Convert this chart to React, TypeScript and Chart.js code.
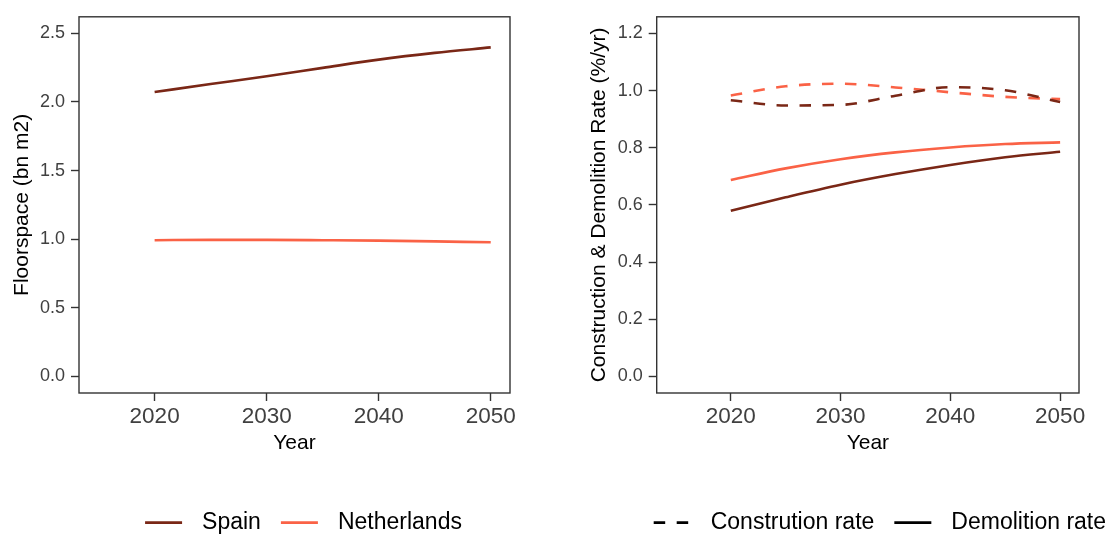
import React, { useEffect, useRef } from "react";
import { Chart, registerables } from "chart.js";

Chart.register(...registerables);

const FONT = '"Liberation Sans", Arial, Helvetica, sans-serif';

const YEARS = [2020, 2025, 2030, 2035, 2040, 2045, 2050];
const X_TICKS = [2020, 2030, 2040, 2050];

const FLOOR_SPAIN = [2.072, 2.13, 2.187, 2.248, 2.308, 2.357, 2.397];
const FLOOR_NL = [0.993, 0.995, 0.995, 0.993, 0.99, 0.984, 0.978];
const FLOOR_TICKS = [0, 0.5, 1.0, 1.5, 2.0, 2.5];

const CONS_SPAIN = [0.966, 0.948, 0.95, 0.982, 1.012, 1.001, 0.96];
const CONS_NL = [0.983, 1.015, 1.024, 1.011, 0.994, 0.978, 0.97];
const DEMO_SPAIN = [0.58, 0.627, 0.671, 0.708, 0.74, 0.767, 0.786];
const DEMO_NL = [0.687, 0.728, 0.76, 0.784, 0.801, 0.813, 0.819];
const RATE_TICKS = [0, 0.2, 0.4, 0.6, 0.8, 1.0, 1.2];

const COUNTRIES = ["Spain", "Netherlands"];
const RATE_TYPES = ["Constrution rate", "Demolition rate"];

const SPAIN_COLOR = "#7A2716";
const NL_COLOR = "#FA6246";
const TICK_TEXT = "#404040";
const DASH = [11.5, 11.5];

const pts = (vals: number[]) => YEARS.map((x, i) => ({ x, y: vals[i] }));

const framePlugin = {
  id: "frame",
  afterDatasetsDraw(chart: any) {
    const { ctx, chartArea: a } = chart;
    ctx.save();
    ctx.strokeStyle = "#333333";
    ctx.lineWidth = 1.4;
    ctx.strokeRect(a.left, a.top, a.right - a.left, a.bottom - a.top);
    ctx.restore();
  },
};

type LegendItem = { label: string; color: string; dash: number[] };

const makeLegendPlugin = (items: LegendItem[], shift: number) => ({
  id: "lineLegend",
  afterDraw(chart: any) {
    const { ctx, chartArea: a } = chart;
    const lineLen = 37;
    const gap = 20;
    const itemGap = 20;
    const y = 522.7;
    ctx.save();
    ctx.font = `23px ${FONT}`;
    const widths = items.map((it) => ctx.measureText(it.label).width);
    const total =
      widths.reduce((s, w) => s + lineLen + gap + w, 0) + itemGap * (items.length - 1);
    let x = (a.left + a.right) / 2 + shift - total / 2;
    items.forEach((it, i) => {
      ctx.beginPath();
      ctx.setLineDash(it.dash);
      ctx.strokeStyle = it.color;
      ctx.lineWidth = 2.7;
      ctx.lineCap = "butt";
      ctx.moveTo(x, y);
      ctx.lineTo(x + lineLen, y);
      ctx.stroke();
      ctx.setLineDash([]);
      ctx.fillStyle = "#000000";
      ctx.textBaseline = "middle";
      ctx.textAlign = "left";
      ctx.fillText(it.label, x + lineLen + gap, y);
      x += lineLen + gap + widths[i] + itemGap;
    });
    ctx.restore();
  },
});

const xScale = () => ({
  type: "linear",
  min: 2013.25,
  max: 2051.72,
  afterBuildTicks: (s: any) => {
    s.ticks = X_TICKS.map((value) => ({ value }));
  },
  afterFit: (s: any) => {
    s.height = 63;
  },
  ticks: {
    callback: (v: any) => String(v),
    color: TICK_TEXT,
    font: { size: 22.5, family: FONT },
    padding: 2,
    maxRotation: 0,
    autoSkip: false,
  },
  grid: {
    display: true,
    drawOnChartArea: false,
    drawTicks: true,
    tickLength: 8,
    tickColor: "#333333",
    tickWidth: 1.4,
  },
  border: { display: false },
  title: {
    display: true,
    text: "Year",
    color: "#000000",
    font: { size: 21, family: FONT },
    padding: 0,
  },
});

const yScale = (min: number, max: number, tickVals: number[], title: string, width: number) => ({
  type: "linear",
  min,
  max,
  afterBuildTicks: (s: any) => {
    s.ticks = tickVals.map((value) => ({ value }));
  },
  afterFit: (s: any) => {
    s.width = width;
  },
  ticks: {
    callback: (v: any) => Number(v).toFixed(1),
    color: TICK_TEXT,
    font: { size: 18, family: FONT },
    padding: 6,
    autoSkip: false,
  },
  grid: {
    display: true,
    drawOnChartArea: false,
    drawTicks: true,
    tickLength: 8,
    tickColor: "#333333",
    tickWidth: 1.4,
  },
  border: { display: false },
  title: {
    display: true,
    text: title,
    color: "#000000",
    font: { size: 21, family: FONT },
    padding: 0,
  },
});

const lineDs = (label: string, vals: number[], color: string, dash: number[]) => ({
  label,
  data: pts(vals),
  borderColor: color,
  backgroundColor: color,
  borderWidth: 2.6,
  borderDash: dash,
  pointRadius: 0,
  pointHoverRadius: 0,
  fill: false,
  cubicInterpolationMode: "monotone",
});

export default function App() {
  const leftRef = useRef<HTMLCanvasElement>(null);
  const rightRef = useRef<HTMLCanvasElement>(null);

  useEffect(() => {
    Chart.defaults.font.family = FONT;
    const left = new Chart(leftRef.current as HTMLCanvasElement, {
      type: "line",
      data: {
        datasets: [
          lineDs(COUNTRIES[0], FLOOR_SPAIN, SPAIN_COLOR, []),
          lineDs(COUNTRIES[1], FLOOR_NL, NL_COLOR, []),
        ],
      } as any,
      options: {
        responsive: false,
        animation: false,
        devicePixelRatio: 1,
        layout: { padding: { left: 9.4, top: 14, right: 46, bottom: 79 } },
        plugins: { legend: { display: false }, tooltip: { enabled: false } },
        scales: {
          x: xScale(),
          y: yScale(-0.12, 2.62, FLOOR_TICKS, "Floorspace (bn m2)", 69.6),
        } as any,
      },
      plugins: [
        framePlugin,
        makeLegendPlugin(
          [
            { label: COUNTRIES[0], color: SPAIN_COLOR, dash: [] },
            { label: COUNTRIES[1], color: NL_COLOR, dash: [] },
          ],
          9
        ),
      ],
    });

    const right = new Chart(rightRef.current as HTMLCanvasElement, {
      type: "line",
      data: {
        datasets: [
          lineDs("Spain construction", CONS_SPAIN, SPAIN_COLOR, DASH),
          lineDs("Netherlands construction", CONS_NL, NL_COLOR, DASH),
          lineDs("Spain demolition", DEMO_SPAIN, SPAIN_COLOR, []),
          lineDs("Netherlands demolition", DEMO_NL, NL_COLOR, []),
        ],
      } as any,
      options: {
        responsive: false,
        animation: false,
        devicePixelRatio: 1,
        layout: { padding: { left: 30.8, top: 14, right: 33, bottom: 79 } },
        plugins: { legend: { display: false }, tooltip: { enabled: false } },
        scales: {
          x: xScale(),
          y: yScale(-0.0576, 1.258, RATE_TICKS, "Construction & Demolition Rate (%/yr)", 69.9),
        } as any,
      },
      plugins: [
        framePlugin,
        makeLegendPlugin(
          [
            { label: RATE_TYPES[0], color: "#000000", dash: DASH },
            { label: RATE_TYPES[1], color: "#000000", dash: [] },
          ],
          12
        ),
      ],
    });

    return () => {
      left.destroy();
      right.destroy();
    };
  }, []);

  return (
    <div
      style={{
        position: "absolute",
        left: 0,
        top: 0,
        width: 1112,
        height: 535,
        display: "flex",
        background: "#ffffff",
      }}
    >
      <canvas ref={leftRef} width={556} height={535} style={{ display: "block" }} />
      <canvas ref={rightRef} width={556} height={535} style={{ display: "block" }} />
    </div>
  );
}
